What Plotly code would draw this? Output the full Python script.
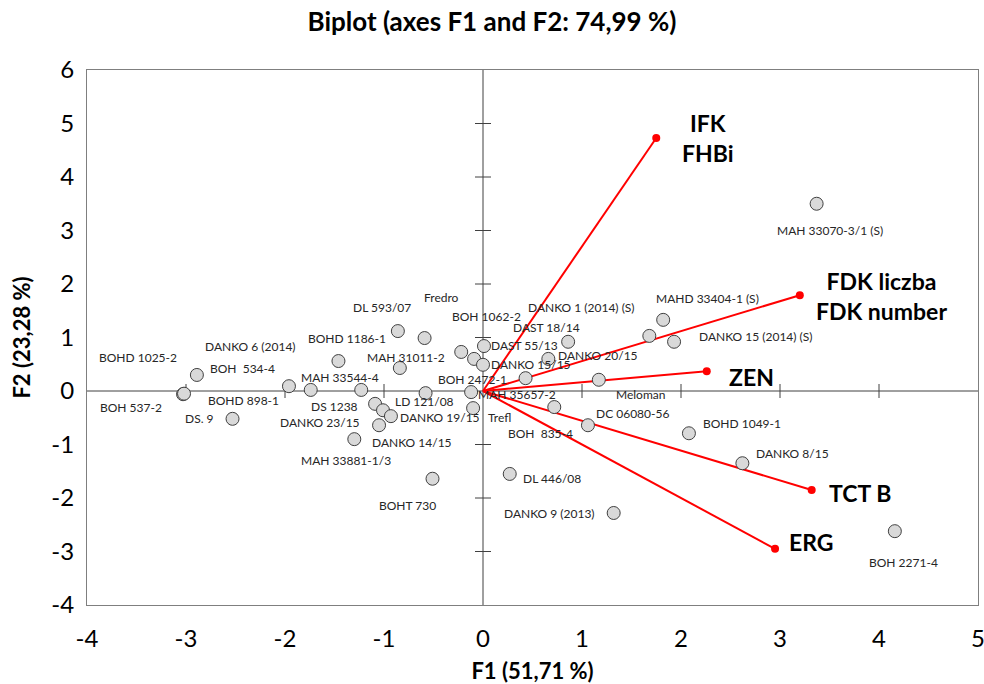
import plotly.graph_objects as go

# Genotype scores on the first two factors
genotypes = [
    "BOHD 1025-2", "BOH 537-2", "BOH  534-4", "DS. 9", "DANKO 6 (2014)",
    "BOHD 898-1", "BOHD 1186-1", "MAH 33544-4", "MAH 33881-1/3", "DS 1238",
    "DANKO 14/15", "DANKO 19/15", "DANKO 23/15", "LD 121/08", "BOHT 730",
    "DL 593/07", "Fredro", "MAH 31011-2", "", "BOH 1062-2",
    "DAST 55/13", "DANKO 15/15", "MAH 35657-2", "Trefl", "BOH 2472-1",
    "DANKO 20/15", "DAST 18/14", "Meloman", "BOH  835-4", "DC 06080-56",
    "DL 446/08", "DANKO 9 (2013)", "BOHD 1049-1", "DANKO 8/15", "BOH 2271-4",
    "MAHD 33404-1 (S)", "DANKO 1 (2014) (S)", "DANKO 15 (2014) (S)", "MAH 33070-3/1 (S)",
]
f1 = [
    -3.03, -3.02, -2.89, -2.53, -1.96,
    -1.74, -1.46, -1.23, -1.30, -1.09,
    -1.01, -0.93, -1.05, -0.58, -0.51,
    -0.86, -0.59, -0.84, -0.22, -0.09,
    0.01, 0.00, -0.12, -0.10, 0.43,
    0.66, 0.86, 1.17, 0.72, 1.06,
    0.27, 1.32, 2.08, 2.62, 4.16,
    1.82, 1.68, 1.93, 3.37,
]
f2 = [
    -0.06, -0.05, 0.30, -0.52, 0.09,
    0.02, 0.56, 0.02, -0.90, -0.24,
    -0.36, -0.47, -0.64, -0.04, -1.64,
    1.12, 0.99, 0.43, 0.73, 0.60,
    0.84, 0.49, -0.02, -0.32, 0.24,
    0.60, 0.92, 0.21, -0.30, -0.64,
    -1.55, -2.28, -0.79, -1.35, -2.62,
    1.33, 1.03, 0.92, 3.50,
]

# Variable loadings (arrows)
variables = ["IFK<br>FHBi", "FDK liczba<br>FDK number", "ZEN", "TCT B", "ERG"]
var_f1 = [1.75, 3.20, 2.26, 3.32, 2.95]
var_f2 = [4.73, 1.79, 0.37, -1.85, -2.95]

x_ticks = [-4, -3, -2, -1, 0, 1, 2, 3, 4, 5]
y_ticks = [-4, -3, -2, -1, 0, 1, 2, 3, 4, 5, 6]

# Label placement: pixel offset (right, down) of each label centre from its point
label_offsets = {
    "BOHD 1025-2": (-45, -37), "BOH 537-2": (-53, 14), "BOH  534-4": (46, -6),
    "DS. 9": (-33, 0), "DANKO 6 (2014)": (-38, -40), "BOHD 898-1": (-67, 11),
    "BOHD 1186-1": (9, -23), "MAH 33544-4": (-21, -12), "MAH 33881-1/3": (-8, 21),
    "DS 1238": (-41, 3), "DANKO 14/15": (29, 32), "DANKO 19/15": (49, 1),
    "DANKO 23/15": (-59, -3), "LD 121/08": (-1, 8), "BOHT 730": (-25, 27),
    "DL 593/07": (-16, -24), "Fredro": (17, -41), "MAH 31011-2": (6, -11),
    "BOH 1062-2": (12, -42), "DAST 55/13": (41, -1), "DANKO 15/15": (48, 0),
    "MAH 35657-2": (46, 2), "Trefl": (26, 9), "BOH 2472-1": (-53, 1),
    "DANKO 20/15": (50, -3), "DAST 18/14": (-22, -14), "Meloman": (42, 15),
    "BOH  835-4": (-14, 26), "DC 06080-56": (45, -12), "DL 446/08": (42, 5),
    "DANKO 9 (2013)": (-64, 1), "BOHD 1049-1": (53, -10), "DANKO 8/15": (50, -10),
    "BOH 2271-4": (9, 31), "MAHD 33404-1 (S)": (44, -21),
    "DANKO 1 (2014) (S)": (-68, -28), "DANKO 15 (2014) (S)": (82, -5),
    "MAH 33070-3/1 (S)": (13, 27),
}
# (x shift, y shift down, anchor) for variable labels relative to arrow tips
var_label_pos = [(24, 0, "left"), (82, 1, "center"), (20, 6, "left"), (15, 3, "left"), (12, -7, "left")]

FONT = "Lato"
RED = "#ff0000"

fig = go.Figure()

# Arrows from origin
ax, ay = [], []
for vx, vy in zip(var_f1, var_f2):
    ax += [0, vx, None]
    ay += [0, vy, None]
fig.add_trace(go.Scatter(x=ax, y=ay, mode="lines", line=dict(color=RED, width=2),
                         hoverinfo="skip", showlegend=False))
fig.add_trace(go.Scatter(x=var_f1, y=var_f2, mode="markers",
                         marker=dict(color=RED, size=8), showlegend=False,
                         text=[v.replace("<br>", " / ") for v in variables], hoverinfo="text"))

# Genotype points
fig.add_trace(go.Scatter(x=f1, y=f2, mode="markers",
                         marker=dict(size=13, color="#d9d9d9", line=dict(color="#404040", width=1)),
                         text=genotypes, hoverinfo="text+x+y", showlegend=False))

annotations = []
for name, x, y in zip(genotypes, f1, f2):
    if not name:
        continue
    dx, dy = label_offsets[name]
    annotations.append(dict(x=x, y=y, xref="x", yref="y", text=name, showarrow=False,
                            xshift=dx, yshift=-dy, xanchor="center", yanchor="middle",
                            font=dict(family=FONT, size=12, color="#262626")))
for name, x, y, (dx, dy, anc) in zip(variables, var_f1, var_f2, var_label_pos):
    annotations.append(dict(x=x, y=y, xref="x", yref="y", text="<b>" + name + "</b>",
                            showarrow=False, xshift=dx, yshift=-dy, xanchor=anc,
                            yanchor="middle", align="center",
                            font=dict(family=FONT, size=23, color="#000000")))

# Central axes with crossing tick marks
shapes = [
    dict(type="line", xref="x", yref="y", x0=x_ticks[0], x1=x_ticks[-1], y0=0, y1=0,
         line=dict(color="#404040", width=1), layer="below"),
    dict(type="line", xref="x", yref="y", x0=0, x1=0, y0=y_ticks[0], y1=y_ticks[-1],
         line=dict(color="#404040", width=1), layer="below"),
]
for t in x_ticks[1:-1]:
    if t == 0:
        continue
    shapes.append(dict(type="line", xref="x", yref="y", x0=t, x1=t, ysizemode="pixel",
                       yanchor=0, y0=-7, y1=7, line=dict(color="#404040", width=1), layer="below"))
for t in y_ticks[1:-1]:
    if t == 0:
        continue
    shapes.append(dict(type="line", xref="x", yref="y", y0=t, y1=t, xsizemode="pixel",
                       xanchor=0, x0=-8, x1=8, line=dict(color="#404040", width=1), layer="below"))

fig.update_layout(
    width=984, height=684,
    margin=dict(l=87, r=6, t=70, b=79),
    paper_bgcolor="white", plot_bgcolor="white",
    font=dict(family=FONT, color="#000000"),
    title=dict(text="<b>Biplot (axes F1 and F2: 74,99 %)</b>", x=0.5, xref="container",
               y=1 - 22 / 684, yref="container", yanchor="middle",
               font=dict(family=FONT, size=26, color="#000000")),
    annotations=annotations,
    shapes=shapes,
)
fig.update_xaxes(range=[x_ticks[0], x_ticks[-1]], tickvals=x_ticks,
                 ticktext=[str(t) for t in x_ticks], ticklabeloverflow="allow",
                 showgrid=False, zeroline=False,
                 showline=True, mirror=True, linecolor="#7f7f7f", linewidth=1, ticks="",
                 tickfont=dict(family=FONT, size=24, color="#000000"), ticklabelstandoff=12,
                 title=dict(text="<b>F1 (51,71 %)</b>", font=dict(family=FONT, size=22), standoff=21),
                 automargin=False)
fig.update_yaxes(range=[y_ticks[0], y_ticks[-1]], tickvals=y_ticks,
                 ticktext=[str(t) for t in y_ticks], ticklabeloverflow="allow",
                 showgrid=False, zeroline=False,
                 showline=True, mirror=True, linecolor="#7f7f7f", linewidth=1, ticks="",
                 tickfont=dict(family=FONT, size=24, color="#000000"), ticklabelstandoff=7,
                 title=dict(text="<b>F2 (23,28 %)</b>", font=dict(family=FONT, size=22), standoff=14),
                 automargin=False)

fig.write_html("out.html")
